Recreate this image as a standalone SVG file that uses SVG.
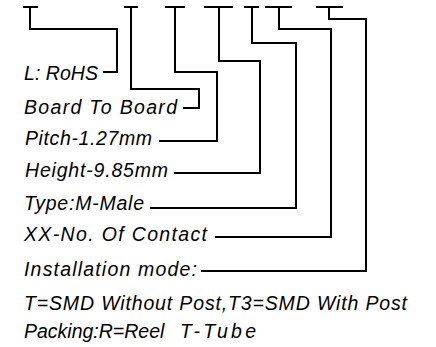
<svg xmlns="http://www.w3.org/2000/svg" width="436" height="347" viewBox="0 0 436 347">
<style>
.ln{fill:none;stroke:#000;stroke-width:2;stroke-linejoin:miter;stroke-linecap:butt}
.t{font-family:"Liberation Sans","DejaVu Sans",sans-serif;font-style:italic;font-size:19.5px;fill:#000}
</style>
<rect width="436" height="347" fill="#fff"/>
<g id="connectors">
<path class="ln" d="M23 7H38M30 7V29H117V72H103"/>
<path class="ln" d="M124 7H138M131 7V89H199V108H183"/>
<path class="ln" d="M165 7H185M175 7V72H217V141H159"/>
<path class="ln" d="M204 7H233M219 7V61H260V173H174"/>
<path class="ln" d="M244 7H259M252 7V43H296V208H150"/>
<path class="ln" d="M265 7H292M279 7V29H331V237H215"/>
<path class="ln" d="M316 7H343M329 7V19H366V271H201"/>
</g>
<g id="n1"><text class="t" x="24" y="80" textLength="74" lengthAdjust="spacing">L: RoHS</text></g>
<g id="n2"><text class="t" x="24" y="114" textLength="153" lengthAdjust="spacing">Board To Board</text></g>
<g id="n3"><text class="t" x="25" y="145" textLength="127" lengthAdjust="spacing">Pitch-1.27mm</text></g>
<g id="n4"><text class="t" x="25" y="177" textLength="143" lengthAdjust="spacing">Height-9.85mm</text></g>
<g id="n5"><text class="t" x="24" y="210" textLength="120" lengthAdjust="spacing">Type:M-Male</text></g>
<g id="n6"><text class="t" x="24" y="241" textLength="183" lengthAdjust="spacing">XX-No. Of Contact</text></g>
<g id="n7"><text class="t" x="24" y="276" textLength="173" lengthAdjust="spacing">Installation mode:</text></g>
<g id="n8"><text class="t" x="24" y="310" textLength="383" lengthAdjust="spacing">T=SMD Without Post,T3=SMD With Post</text></g>
<g id="n9"><text class="t" x="24" y="338">Packing:R=Reel</text><text class="t" x="180" y="338" textLength="76" lengthAdjust="spacing">T-Tube</text></g>
</svg>
